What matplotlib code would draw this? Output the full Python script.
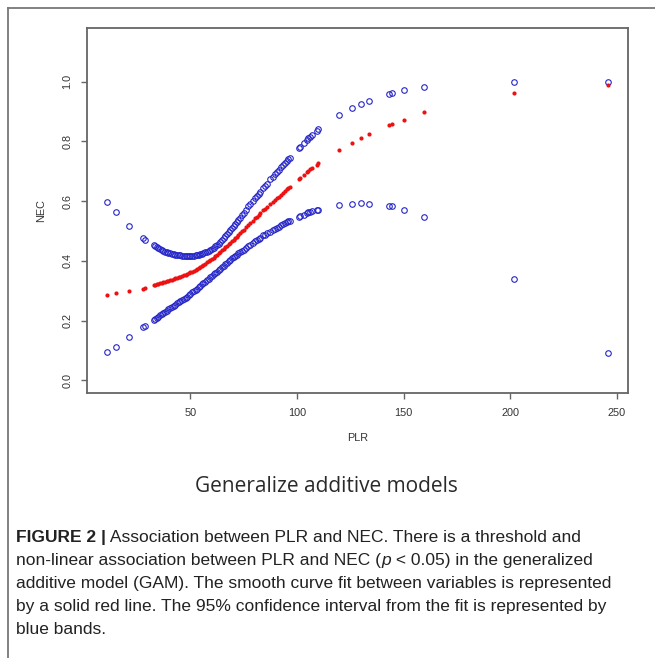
import matplotlib
matplotlib.use("Agg")
import matplotlib.pyplot as plt
from matplotlib.lines import Line2D

# PLR values (x)
plr = [11.0, 15.0, 21.4, 27.8, 28.8,
       32.8, 33.5, 34.3, 35.0, 35.8, 36.6, 37.4, 38.2, 39.0, 39.8,
       40.6, 41.4, 42.2, 43.0, 43.8, 44.6, 45.4, 46.2, 47.0, 47.8,
       48.5, 49.3, 50.1, 50.9, 51.7, 52.5, 53.1, 53.9, 54.7, 55.5,
       56.2, 57.0, 57.8, 58.6, 59.4, 60.2, 61.0, 61.7, 62.5, 63.3,
       64.1, 64.9, 65.6, 66.4, 67.2, 68.0, 68.7, 69.5, 70.3, 71.1,
       71.8, 72.6, 73.4, 74.2, 75.0, 76.2, 77.3, 78.1, 79.2, 80.4,
       81.2, 82.0, 82.8, 84.3, 85.1, 85.9, 87.5, 88.6, 89.8, 90.6,
       91.4, 92.6, 93.7, 94.5, 95.3, 96.0, 96.8, 100.9, 101.5, 103.1,
       104.6, 105.4, 106.2, 107.0, 109.4, 110.1,
       119.9, 126.0, 130.0, 133.7, 143.2, 144.5, 150.2, 159.5, 201.9, 245.8]

# fitted NEC (red)
nec_fit = [0.285, 0.291, 0.299, 0.307, 0.309,
           0.318, 0.319, 0.321, 0.323, 0.324, 0.326, 0.328, 0.330, 0.331, 0.333,
           0.335, 0.337, 0.339, 0.341, 0.343, 0.345, 0.347, 0.349, 0.351, 0.354,
           0.356, 0.358, 0.361, 0.364, 0.367, 0.370, 0.373, 0.376, 0.380, 0.383,
           0.387, 0.391, 0.395, 0.399, 0.403, 0.407, 0.411, 0.415, 0.420, 0.425,
           0.430, 0.435, 0.440, 0.445, 0.450, 0.455, 0.460, 0.465, 0.471, 0.476,
           0.481, 0.487, 0.493, 0.499, 0.504, 0.512, 0.520, 0.526, 0.534, 0.542,
           0.548, 0.554, 0.559, 0.569, 0.574, 0.580, 0.590, 0.597, 0.604, 0.609,
           0.614, 0.621, 0.628, 0.634, 0.639, 0.644, 0.649, 0.674, 0.678, 0.688,
           0.697, 0.702, 0.707, 0.711, 0.722, 0.727,
           0.772, 0.795, 0.812, 0.824, 0.855, 0.858, 0.872, 0.897, 0.963, 0.989]

# upper 95% band (blue)
nec_hi = [0.596, 0.565, 0.516, 0.476, 0.470,
          0.452, 0.449, 0.446, 0.443, 0.440, 0.437, 0.434, 0.431, 0.429, 0.427,
          0.425, 0.423, 0.422, 0.421, 0.420, 0.419, 0.418, 0.417, 0.417, 0.416,
          0.416, 0.416, 0.416, 0.416, 0.417, 0.418, 0.419, 0.420, 0.422, 0.424,
          0.426, 0.428, 0.431, 0.434, 0.437, 0.440, 0.444, 0.448, 0.453, 0.458,
          0.463, 0.469, 0.475, 0.482, 0.489, 0.496, 0.503, 0.510, 0.517, 0.524,
          0.531, 0.538, 0.545, 0.553, 0.561, 0.571, 0.582, 0.590, 0.600, 0.611,
          0.618, 0.625, 0.632, 0.645, 0.652, 0.659, 0.673, 0.682, 0.692, 0.699,
          0.705, 0.714, 0.722, 0.728, 0.734, 0.740, 0.746, 0.778, 0.783, 0.795,
          0.806, 0.811, 0.816, 0.821, 0.836, 0.841,
          0.889, 0.911, 0.926, 0.937, 0.959, 0.962, 0.971, 0.984, 0.999, 0.999]

# lower 95% band (blue)
nec_lo = [0.094, 0.112, 0.146, 0.178, 0.182,
          0.202, 0.205, 0.209, 0.213, 0.217, 0.221, 0.225, 0.229, 0.233, 0.237,
          0.241, 0.245, 0.249, 0.253, 0.257, 0.261, 0.265, 0.269, 0.273, 0.277,
          0.280, 0.285, 0.289, 0.294, 0.298, 0.303, 0.307, 0.311, 0.316, 0.321,
          0.325, 0.330, 0.335, 0.340, 0.345, 0.350, 0.355, 0.359, 0.364, 0.369,
          0.374, 0.379, 0.384, 0.389, 0.394, 0.399, 0.403, 0.408, 0.412, 0.417,
          0.421, 0.425, 0.429, 0.433, 0.437, 0.443, 0.449, 0.454, 0.460, 0.466,
          0.470, 0.474, 0.478, 0.485, 0.488, 0.492, 0.498, 0.503, 0.508, 0.511,
          0.514, 0.519, 0.523, 0.526, 0.529, 0.532, 0.535, 0.547, 0.549, 0.554,
          0.559, 0.562, 0.564, 0.566, 0.570, 0.571,
          0.587, 0.591, 0.593, 0.591, 0.582, 0.582, 0.571, 0.548, 0.338, 0.092]

xticks = [50, 100, 150, 200, 250]
yticks = [0.0, 0.2, 0.4, 0.6, 0.8, 1.0]

title_txt = "Generalize additive models"

plt.rcParams['font.family'] = ['Liberation Sans', 'DejaVu Sans']

fig = plt.figure(figsize=(6.55, 6.58), dpi=100)
ax = fig.add_axes([0.1328, 0.4027, 0.826, 0.5547])

blue = '#2626c8'
ax.plot(plr, nec_hi, 'o', mfc='none', mec=blue, ms=4.0, mew=0.8, ls='none')
ax.plot(plr, nec_lo, 'o', mfc='none', mec=blue, ms=4.0, mew=0.8, ls='none')
ax.plot(plr, nec_fit, 'o', color='#ee1111', ms=3.0, mew=0, ls='none')

ax.set_xlim(1.6, 255.2)
ax.set_ylim(-0.043, 1.18)
ax.set_xticks(xticks)
ax.set_xticklabels([str(t) for t in xticks])
ax.set_yticks(yticks)
ax.set_yticklabels(["%.1f" % t for t in yticks], rotation=90, va='center')

for s in ax.spines.values():
    s.set_color('#666666')
    s.set_linewidth(1.3)
ax.tick_params(direction='out', length=4.5, width=1.0, color='#666666',
               labelsize=7.8, labelcolor='#333333', pad=6)
ax.set_xlabel("PLR", fontsize=7.8, color='#333333', labelpad=11)
ax.set_ylabel("NEC", fontsize=7.8, color='#333333', labelpad=12)

# big subtitle under the plot
fig.text(0.499, 1 - 486 / 658, title_txt, ha='center', va='center',
         fontsize=15, family=['Open Sans', 'DejaVu Sans'], color='#2a2a2a')

# caption
cap = ['Liberation Sans', 'DejaVu Sans']
cs = 12.5
x0 = 16 / 655
ys = [537.7, 561, 583.7, 607, 630]

t = fig.text(x0, 1 - ys[0] / 658, "FIGURE 2 |", fontsize=cs, family=cap,
             weight='bold', va='center', color='#222222')
ax.annotate(" Association between PLR and NEC. There is a threshold and",
            xy=(1, 0), xycoords=t, va='bottom', fontsize=cs, family=cap,
            color='#222222', annotation_clip=False)

t2 = fig.text(x0, 1 - ys[1] / 658, "non-linear association between PLR and NEC (",
              fontsize=cs, family=cap, va='center', color='#222222')
t3 = ax.annotate("p", xy=(1, 0), xycoords=t2, va='bottom', fontsize=cs,
                 family=cap, style='italic', color='#222222', annotation_clip=False)
ax.annotate(" < 0.05) in the generalized", xy=(1, 0), xycoords=t3, va='bottom',
            fontsize=cs, family=cap, color='#222222', annotation_clip=False)

rest = ["additive model (GAM). The smooth curve fit between variables is represented",
        "by a solid red line. The 95% confidence interval from the fit is represented by",
        "blue bands."]
for i, line in enumerate(rest):
    fig.text(x0, 1 - ys[i + 2] / 658, line, fontsize=cs, family=cap,
             va='center', color='#222222')

# light frame around the figure panel
fig.add_artist(Line2D([8 / 655, 1.0], [1 - 7.5 / 658, 1 - 7.5 / 658],
                      transform=fig.transFigure, color='#777777', lw=1.3))
fig.add_artist(Line2D([8 / 655, 8 / 655], [1 - 7.5 / 658, 0.0],
                      transform=fig.transFigure, color='#777777', lw=1.3))

fig.savefig("out.png", dpi=100)
